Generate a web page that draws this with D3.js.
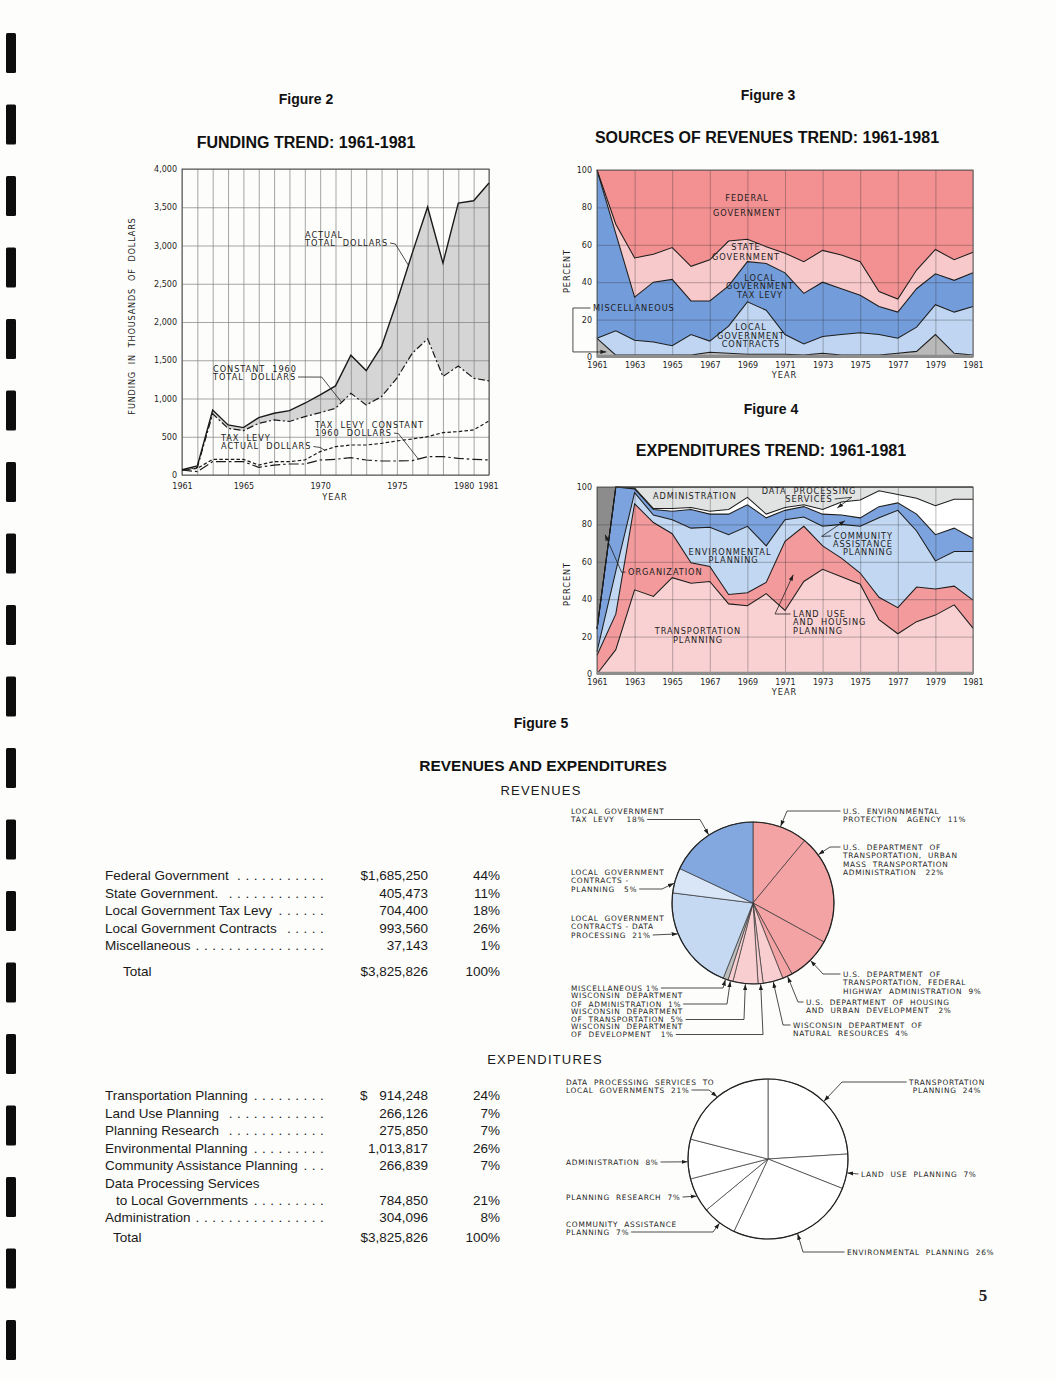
<!DOCTYPE html>
<html>
<head>
<meta charset="utf-8">
<title>Funding, revenues and expenditures 1961-1981</title>
<script src="https://cdn.jsdelivr.net/npm/d3@7"></script>
<style>
  body { margin: 0; background: #fdfdfb; }
  text { font-family: "DejaVu Sans", sans-serif; fill: #1e1e1e; }
  .lt { font-size: 8.2px; letter-spacing: 0.95px; white-space: pre; }
  .pl { font-size: 7.4px; letter-spacing: 0.7px; white-space: pre; }
  .tick text { font-family: "DejaVu Sans", sans-serif; font-size: 8px; letter-spacing: 0px; fill: #1e1e1e; }
  .ttl { font-family: "Liberation Sans", Arial, sans-serif; font-weight: bold; fill: #111; }
  .tb text { font-family: "Liberation Sans", Arial, sans-serif; font-size: 13.5px; fill: #1a1a1a; }
  .sub { font-family: "Liberation Sans", Arial, sans-serif; font-size: 13px; letter-spacing: 1.2px; fill: #1a1a1a; }
</style>
</head>
<body>
<div id="page"></div>
<script>
var years = [1961,1962,1963,1964,1965,1966,1967,1968,1969,1970,1971,1972,1973,1974,1975,1976,1977,1978,1979,1980,1981];

// Figure 2: funding in thousands of dollars
var f2Actual       = [70,118,850,655,620,750,807,842,938,1047,1165,1566,1365,1680,2268,2900,3503,2770,3555,3585,3817];
var f2Constant     = [65,100,800,610,580,676,720,700,763,815,872,1068,916,1025,1265,1592,1780,1287,1426,1265,1230];
var f2LevyActual   = [65,87,205,205,205,130,175,175,196,305,370,392,392,414,445,471,501,554,567,589,707];
var f2LevyConstant = [65,44,175,175,175,100,130,144,144,196,205,227,196,183,183,187,240,240,218,205,196];
var f2YTicks = [0,500,1000,1500,2000,2500,3000,3500,4000];
var f2XTicks = [1961,1965,1970,1975,1980,1981];

// Figure 3: sources of revenues, percent
var f3Keys      = ["misc","contracts","levy","state","federal"];
var f3Misc      = [10,1,1,1,1,1,2.5,2,1.5,1.5,1.5,1,2,1,1,1,2,3,12,2,1];
var f3Contracts = [0,13,8,7,5,11,6,14.5,28,23.5,10.5,6,9,11,12,11,8,13,16,22,26];
var f3Levy      = [90,52,23,32,35.5,18,21.5,21.5,21.5,25,33,27,29,24.5,20,15,14,20.5,16.5,17,18];
var f3State     = [0,5,21,15,17,18.5,22,24,12,9,10.5,17,17,18,18,8,7,10,13,11,11];
var f3Federal   = [0,29,47,45,41.5,51.5,48,38,37,41,44.5,49,43,45.5,49,65,69,53.5,42.5,48,44];
var f3Colors    = ["#b9b9b9","#bfd5f1","#739cda","#f8c9cb","#f29092"];

// Figure 4: expenditures, percent
var f4Keys      = ["transport","landuse","environ","community","dataproc","admin","organization"];
var f4Transport = [0,13,45,41.5,51.5,48.5,49.5,37.5,36.5,43,34,49.5,56,52,48,29,21.5,28,31.5,37,24.5];
var f4LandUse   = [10,19,46,39.5,23.5,11,8,5,7,6,37,29.5,12.5,10,6,12,14,18.5,14,10,15];
var f4Environ   = [2,23,6,4,7.5,18.5,21,32,35.5,19.5,11.5,5,10.5,18,25,42.5,52,30,15,18.5,26];
var f4Community = [12,45,2,3,4.5,10,7,11,11.5,15,5,5.5,6.5,5,4.5,6,4,9,14,12.5,7];
var f4DataProc  = [0,0,0.5,0.5,1.5,1,1.5,2.5,4,2,1.5,1,2.5,7,9.5,8.5,4.5,8.5,15.5,15.5,21];
var f4Admin     = [0,0,0.5,11.5,11.5,11,13,12,5.5,14.5,11,9.5,12,8,7,2,4,6,10,6.5,6.5];
var f4Organize  = [76,0,0,0,0,0,0,0,0,0,0,0,0,0,0,0,0,0,0,0,0];
var f4Colors    = ["#f9d1d3","#f29a9c","#c2d7f2","#7ca3de","#ffffff","#e1e2e2","#8c8c8c"];

var pctTicks  = [0,20,40,60,80,100];
var f34XTicks = [1961,1963,1965,1967,1969,1971,1973,1975,1977,1979,1981];

// Figure 5: revenues and expenditures
var revLabels  = ["Federal Government","State Government.","Local Government Tax Levy","Local Government Contracts","Miscellaneous"];
var revAmounts = [1685250,405473,704400,993560,37143];
var revPct     = [44,11,18,26,1];
var revPieValues = [11,22,9,2,4,1,5,1,1,21,5,18];
var revPieColors = ["#f4a3a5","#f4a3a5","#f4a3a5","#f4a3a5","#f9ced1","#f9ced1","#f9ced1","#f9ced1","#bdbdbd","#c5d9f3","#d9e6f8","#82a8df"];

var expLabels  = ["Transportation Planning","Land Use Planning","Planning Research","Environmental Planning","Community Assistance Planning","Data Processing Services|to Local Governments","Administration"];
var expAmounts = [914248,266126,275850,1013817,266839,784850,304096];
var expPct     = [24,7,7,26,7,21,8];
var expPieValues = [24,7,26,7,7,8,21];

// ---------------------------------------------------------------
var svg = d3.select("#page").append("svg").attr("width",1056).attr("height",1380);
svg.append("rect").attr("width",1056).attr("height",1380).attr("fill","#fdfdfb");

var defs = svg.append("defs");
defs.append("marker").attr("id","arrow")
  .attr("viewBox","0 0 10 10").attr("refX",10).attr("refY",5)
  .attr("markerUnits","userSpaceOnUse").attr("markerWidth",6).attr("markerHeight",6)
  .attr("orient","auto")
  .append("path").attr("d","M0,1.5L10,5L0,8.5Z").attr("fill","#1e1e1e");

// binding holes along the scanned page edge
d3.range(19).forEach(function(i){
  svg.append("rect").attr("x",6).attr("y",33 + i*71.5).attr("width",10).attr("height",40)
    .attr("rx",1.5).attr("fill","#0d0d0d");
});

function title(x, y, txt, size) {
  svg.append("text").attr("class","ttl").attr("x",x).attr("y",y)
    .attr("text-anchor","middle").attr("dy","0.35em").style("font-size",size+"px").text(txt);
}

function lines(g, x, y, arr, step, anchor, cls) {
  var t = g.append("text").attr("class", cls || "lt").attr("text-anchor", anchor || "middle")
    .attr("xml:space","preserve");
  arr.forEach(function(s,i){
    t.append("tspan").attr("x",x).attr("y",y + i*step).attr("dy","0.35em").text(s);
  });
  return t;
}

// point where a leader leaves a label line
function edgePoint(t, idx, out) {
  var sp = t.selectAll("tspan").nodes()[idx];
  var len = sp.getComputedTextLength();
  var x = +sp.getAttribute("x"), y = +sp.getAttribute("y");
  var a = t.attr("text-anchor");
  var left = a === "start" ? x : a === "end" ? x - len : x - len/2;
  return out === "right" ? [left + len + 2, y] : [left - 2.5, y];
}

function leader(g, pts, arrow) {
  g.append("path").attr("d", d3.line()(pts)).attr("fill","none")
    .attr("stroke","#1e1e1e").attr("stroke-width",0.8)
    .attr("marker-end", arrow ? "url(#arrow)" : null);
}

function valueAt(series, yr) {
  var i = Math.floor(yr - 1961), f = yr - 1961 - i;
  return series[i] + f*(series[i+1] - series[i]);
}

// ---------------- Figure 2 ----------------
title(306, 99, "Figure 2", 14);
title(306, 142, "FUNDING TREND: 1961-1981", 16);

var b2 = {x0:182, x1:489, y0:169, y1:475};
var x2 = d3.scaleLinear().domain([1961,1981]).range([b2.x0,b2.x1]);
var y2 = d3.scaleLinear().domain([0,4000]).range([b2.y1,b2.y0]);
var g2 = svg.append("g");

g2.append("path").datum(f2Actual)
  .attr("d", d3.area().x(function(d,i){ return x2(years[i]); })
    .y0(function(d,i){ return y2(f2Constant[i]); })
    .y1(function(d){ return y2(d); }))
  .attr("fill","#d5d5d5");

g2.append("g").attr("transform","translate(0,"+b2.y1+")")
  .call(d3.axisBottom(x2).tickValues(years).tickSize(-(b2.y1-b2.y0)).tickFormat(""))
  .call(function(a){ a.select(".domain").remove(); })
  .selectAll("line").attr("stroke","#808080").attr("stroke-width",0.7);
g2.append("g").attr("transform","translate("+b2.x0+",0)")
  .call(d3.axisLeft(y2).tickValues(f2YTicks).tickSize(-(b2.x1-b2.x0)).tickFormat(""))
  .call(function(a){ a.select(".domain").remove(); })
  .selectAll("line").attr("stroke","#808080").attr("stroke-width",0.7);
g2.append("rect").attr("x",b2.x0).attr("y",b2.y0).attr("width",b2.x1-b2.x0).attr("height",b2.y1-b2.y0)
  .attr("fill","none").attr("stroke","#444").attr("stroke-width",0.9);

var ln2 = d3.line().x(function(d,i){ return x2(years[i]); }).y(function(d){ return y2(d); });
[[f2Actual,null,1.4],[f2Constant,"7,2.5,2,2.5",1.2],[f2LevyActual,"3.5,2.2",1.2],[f2LevyConstant,"10,3,2.5,3",1.2]]
  .forEach(function(s){
    g2.append("path").datum(s[0]).attr("d",ln2).attr("fill","none")
      .attr("stroke","#1a1a1a").attr("stroke-width",s[2]).attr("stroke-dasharray",s[1]);
  });

g2.append("g").attr("transform","translate("+b2.x0+",0)")
  .call(d3.axisLeft(y2).tickValues(f2YTicks).tickSize(0).tickPadding(5).tickFormat(d3.format(",")))
  .call(function(a){ a.select(".domain").remove(); });
g2.append("g").attr("transform","translate(0,"+b2.y1+")")
  .call(d3.axisBottom(x2).tickValues(f2XTicks).tickSize(0).tickPadding(8).tickFormat(d3.format("d")))
  .call(function(a){ a.select(".domain").remove(); })
  .selectAll("text").attr("dx", function(d){ return d === 1980 ? -10 : d === 1981 ? -1 : 0; });

g2.append("text").attr("class","lt").attr("transform","translate(132,316) rotate(-90)")
  .attr("text-anchor","middle").attr("dy","0.35em").style("letter-spacing","0.8px")
  .text("FUNDING  IN  THOUSANDS  OF  DOLLARS");
g2.append("text").attr("class","lt").attr("x",335).attr("y",497).attr("text-anchor","middle")
  .attr("dy","0.35em").text("YEAR");

var t2a = lines(g2, 305, 235, ["ACTUAL","TOTAL  DOLLARS"], 8, "start");
leader(g2, [edgePoint(t2a,1,"right"), [x2(1974.9), y2(3020)], [x2(1975.75), y2(valueAt(f2Actual,1975.75))]]);
var t2b = lines(g2, 213, 369, ["CONSTANT  1960","TOTAL  DOLLARS"], 8, "start");
leader(g2, [edgePoint(t2b,1,"right"), [x2(1970.1), y2(1280)], [x2(1971.4), y2(valueAt(f2Constant,1971.4))]]);
var t2c = lines(g2, 315, 425, ["TAX  LEVY  CONSTANT","1960  DOLLARS"], 8, "start");
leader(g2, [edgePoint(t2c,1,"right"), [x2(1975.1), y2(540)], [x2(1976.4), y2(valueAt(f2LevyConstant,1976.4))]]);
var t2d = lines(g2, 221, 438, ["TAX  LEVY","ACTUAL  DOLLARS"], 8.5, "start");
leader(g2, [edgePoint(t2d,1,"right"), [x2(1970.0), y2(360)], [x2(1970.3), y2(valueAt(f2LevyActual,1970.3))]]);

// ---------------- stacked percent charts ----------------
function stackChart(box, keys, series, colors) {
  var x = d3.scaleLinear().domain([1961,1981]).range([box.x0,box.x1]);
  var y = d3.scaleLinear().domain([0,100]).range([box.y1,box.y0]);
  var rows = years.map(function(yr,i){
    var r = {year: yr};
    keys.forEach(function(k,j){ r[k] = series[j][i]; });
    return r;
  });
  var layers = d3.stack().keys(keys)(rows);
  var g = svg.append("g");
  var area = d3.area().x(function(d){ return x(d.data.year); })
    .y0(function(d){ return y(d[0]); }).y1(function(d){ return y(d[1]); });
  g.selectAll("path.layer").data(layers).join("path").attr("class","layer")
    .attr("d",area).attr("fill",function(d,i){ return colors[i]; });

  g.append("g").attr("transform","translate(0,"+box.y1+")")
    .call(d3.axisBottom(x).tickValues(f34XTicks).tickSize(-(box.y1-box.y0)).tickFormat(""))
    .call(function(a){ a.select(".domain").remove(); })
    .selectAll("line").attr("stroke","rgba(40,40,40,0.45)").attr("stroke-width",0.7);
  g.append("g").attr("transform","translate("+box.x0+",0)")
    .call(d3.axisLeft(y).tickValues(pctTicks).tickSize(-(box.x1-box.x0)).tickFormat(""))
    .call(function(a){ a.select(".domain").remove(); })
    .selectAll("line").attr("stroke","rgba(40,40,40,0.45)").attr("stroke-width",0.7);

  var edge = d3.line().x(function(d){ return x(d.data.year); }).y(function(d){ return y(d[1]); });
  g.selectAll("path.edge").data(layers.slice(0,-1)).join("path").attr("class","edge")
    .attr("d",edge).attr("fill","none").attr("stroke","#1c1c1c").attr("stroke-width",1.05);

  g.append("rect").attr("x",box.x0).attr("y",box.y0).attr("width",box.x1-box.x0).attr("height",box.y1-box.y0)
    .attr("fill","none").attr("stroke","#555").attr("stroke-width",0.9);
  g.append("line").attr("x1",box.x0).attr("x2",box.x1).attr("y1",box.y1-1).attr("y2",box.y1-1)
    .attr("stroke","#8e8e8e").attr("stroke-width",2.5);

  g.append("g").attr("transform","translate("+box.x0+",0)")
    .call(d3.axisLeft(y).tickValues(pctTicks).tickSize(0).tickPadding(5))
    .call(function(a){ a.select(".domain").remove(); });
  g.append("g").attr("transform","translate(0,"+box.y1+")")
    .call(d3.axisBottom(x).tickValues(f34XTicks).tickSize(0).tickPadding(5).tickFormat(d3.format("d")))
    .call(function(a){ a.select(".domain").remove(); });
  g.append("text").attr("class","lt").attr("x",(box.x0+box.x1)/2 - 0.5).attr("y",box.y1+18)
    .attr("text-anchor","middle").attr("dy","0.35em").text("YEAR");
  return {x:x, y:y, g:g};
}

// ---------------- Figure 3 ----------------
title(768, 95, "Figure 3", 14);
title(767, 137, "SOURCES OF REVENUES TREND: 1961-1981", 16);
var b3 = {x0:597, x1:973, y0:170, y1:357};
var c3 = stackChart(b3, f3Keys, [f3Misc,f3Contracts,f3Levy,f3State,f3Federal], f3Colors);
c3.g.append("text").attr("class","lt").attr("transform","translate(567,271) rotate(-90)")
  .attr("text-anchor","middle").attr("dy","0.35em").text("PERCENT");
lines(c3.g, 747, 198, ["FEDERAL","GOVERNMENT"], 15);
lines(c3.g, 746, 247, ["STATE","GOVERNMENT"], 10);
lines(c3.g, 760, 278, ["LOCAL","GOVERNMENT","TAX LEVY"], 8.5);
lines(c3.g, 751, 327, ["LOCAL","GOVERNMENT","CONTRACTS"], 8.7);
var t3m = lines(c3.g, 593, 308, ["MISCELLANEOUS"], 8, "start");
leader(c3.g, [edgePoint(t3m,0,"left"), [c3.x(1959.72), c3.y(26.2)], [c3.x(1959.72), c3.y(2.7)], [c3.x(1961.5), c3.y(2.7)]], true);

// ---------------- Figure 4 ----------------
title(771, 409, "Figure 4", 14);
title(771, 450, "EXPENDITURES TREND: 1961-1981", 16);
var b4 = {x0:597, x1:973, y0:487, y1:674};
var c4 = stackChart(b4, f4Keys, [f4Transport,f4LandUse,f4Environ,f4Community,f4DataProc,f4Admin,f4Organize], f4Colors);
c4.g.append("text").attr("class","lt").attr("transform","translate(567,584) rotate(-90)")
  .attr("text-anchor","middle").attr("dy","0.35em").text("PERCENT");
lines(c4.g, 653, 496, ["ADMINISTRATION"], 8, "start");
var t4d = lines(c4.g, 809, 491, ["DATA  PROCESSING","SERVICES"], 8);
leader(c4.g, [edgePoint(t4d,1,"right"), [c4.x(1974.55), c4.y(94.5)], [c4.x(1973.78), c4.y(88.8)]], true);
var t4c = lines(c4.g, 893, 536, ["COMMUNITY","ASSISTANCE","PLANNING"], 8.2, "end");
leader(c4.g, [edgePoint(t4c,0,"left"), [c4.x(1972.95), c4.y(73.6)], [c4.x(1974.19), c4.y(82.0)]], true);
lines(c4.g, 730, 552, ["ENVIRONMENTAL","  PLANNING"], 8.3);
var t4o = lines(c4.g, 628, 572, ["ORGANIZATION"], 8, "start");
leader(c4.g, [edgePoint(t4o,0,"left"), [c4.x(1962.31), c4.y(54.4)], [c4.x(1961.43), c4.y(74.5)]], true);
var t4l = lines(c4.g, 793, 614, ["LAND  USE","AND  HOUSING","PLANNING"], 8.5, "start");
leader(c4.g, [edgePoint(t4l,0,"left"), [c4.x(1970.47), c4.y(32.1)], [c4.x(1971.44), c4.y(53.1)]], true);
lines(c4.g, 698, 631, ["TRANSPORTATION","PLANNING"], 9);

// ---------------- Figure 5 ----------------
title(541, 723, "Figure 5", 14);
title(543, 766, "REVENUES AND EXPENDITURES", 15.5);
svg.append("text").attr("class","sub").attr("x",541).attr("y",790).attr("dy","0.35em")
  .attr("text-anchor","middle").text("REVENUES");
svg.append("text").attr("class","sub").attr("x",545).attr("y",1059).attr("dy","0.35em")
  .attr("text-anchor","middle").text("EXPENDITURES");

function pieChart(cx, cy, r, values, colors) {
  var arcs = d3.pie().sort(null).value(function(d){ return d; })(values);
  var arc = d3.arc().innerRadius(0).outerRadius(r);
  var g = svg.append("g").attr("transform","translate("+cx+","+cy+")");
  g.selectAll("path").data(arcs).join("path").attr("d",arc)
    .attr("fill",function(d,i){ return colors ? colors[i] : "#fff"; })
    .attr("stroke","#333").attr("stroke-width",0.7);
  g.append("circle").attr("r",r).attr("fill","none").attr("stroke","#222").attr("stroke-width",1.2);
  return arcs;
}

function pieLabels(arcs, cx, cy, r, layout, step) {
  layout.forEach(function(L){
    var t = lines(svg, L.x, L.y, L.text, step, L.anchor || "start", "pl");
    var a = arcs[L.s];
    var p = d3.pointRadial(a.startAngle + L.t*(a.endAngle - a.startAngle), r + 0.5);
    var s = edgePoint(t, L.from, L.out);
    var pts = [s];
    if (L.elbow != null) pts.push([L.elbow, s[1]]);
    pts.push([cx + p[0], cy + p[1]]);
    leader(svg, pts, true);
  });
}

var revArcs = pieChart(753, 903, 81, revPieValues, revPieColors);
pieLabels(revArcs, 753, 903, 81, [
  {s:11, text:["LOCAL  GOVERNMENT","TAX  LEVY    18%"], x:571, y:811, out:"right", from:1, elbow:700, t:0.49},
  {s:10, text:["LOCAL  GOVERNMENT","CONTRACTS -","PLANNING   5%"], x:571, y:872, out:"right", from:2, elbow:662, t:0.38},
  {s:9,  text:["LOCAL  GOVERNMENT","CONTRACTS - DATA","PROCESSING  21%"], x:571, y:918, out:"right", from:2, elbow:null, t:0.61},
  {s:8,  text:["MISCELLANEOUS 1%"], x:571, y:988, out:"right", from:0, elbow:723, t:0.5},
  {s:7,  text:["WISCONSIN  DEPARTMENT","OF  ADMINISTRATION  1%"], x:571, y:995.5, out:"right", from:1, elbow:727, t:0.5},
  {s:6,  text:["WISCONSIN  DEPARTMENT","OF  TRANSPORTATION  5%"], x:571, y:1011, out:"right", from:1, elbow:744, t:0.5},
  {s:5,  text:["WISCONSIN  DEPARTMENT","OF  DEVELOPMENT   1%"], x:571, y:1026, out:"right", from:1, elbow:763, t:0.5},
  {s:0,  text:["U.S.  ENVIRONMENTAL","PROTECTION   AGENCY  11%"], x:843, y:811, out:"left", from:0, elbow:787, t:0.5},
  {s:1,  text:["U.S.  DEPARTMENT  OF","TRANSPORTATION,  URBAN","MASS  TRANSPORTATION","ADMINISTRATION   22%"], x:843, y:847, out:"left", from:0, elbow:830, t:0.175},
  {s:2,  text:["U.S.  DEPARTMENT  OF","TRANSPORTATION,  FEDERAL","HIGHWAY  ADMINISTRATION  9%"], x:843, y:974, out:"left", from:0, elbow:823, t:0.5},
  {s:3,  text:["U.S.  DEPARTMENT  OF  HOUSING","AND  URBAN  DEVELOPMENT   2%"], x:806, y:1002, out:"left", from:0, elbow:798, t:0.5},
  {s:4,  text:["WISCONSIN  DEPARTMENT  OF","NATURAL  RESOURCES  4%"], x:793, y:1025, out:"left", from:0, elbow:783, t:0.5}
], 8.5);

var expArcs = pieChart(768, 1159, 80, expPieValues, null);
pieLabels(expArcs, 768, 1159, 80, [
  {s:6, text:["DATA  PROCESSING  SERVICES  TO","LOCAL  GOVERNMENTS  21%"], x:566, y:1082, out:"right", from:1, elbow:709, t:0.48},
  {s:0, text:["TRANSPORTATION","PLANNING  24%"], x:947, y:1082, anchor:"middle", out:"left", from:0, elbow:842, t:0.51},
  {s:5, text:["ADMINISTRATION  8%"], x:566, y:1162, out:"right", from:0, elbow:null, t:0.43},
  {s:1, text:["LAND  USE  PLANNING  7%"], x:861, y:1174, out:"left", from:0, elbow:null, t:0.54},
  {s:4, text:["PLANNING  RESEARCH  7%"], x:566, y:1197, out:"right", from:0, elbow:null, t:0.48},
  {s:3, text:["COMMUNITY  ASSISTANCE","PLANNING  7%"], x:566, y:1224, out:"right", from:1, elbow:713, t:0.47},
  {s:2, text:["ENVIRONMENTAL  PLANNING  26%"], x:847, y:1252, out:"left", from:0, elbow:803, t:0.5}
], 8);

// ---------------- tables ----------------
function moneyTable(labels, amounts, pcts, lineYs, totalY, totalX, dollarApart) {
  var g = svg.append("g").attr("class","tb");
  var fmt = d3.format(",");
  var k = 0;
  labels.forEach(function(lab, i){
    var parts = lab.split("|");
    parts.forEach(function(p, j){
      var y = lineYs[k++];
      var x0 = j > 0 ? 116 : 105;
      var t = g.append("text").attr("x",x0).attr("y",y).attr("dy","0.35em").text(p);
      if (j < parts.length - 1) return;
      var end = x0 + t.node().getComputedTextLength();
      for (var dx = 322; dx > end + 5; dx -= 8.3) {
        g.append("text").attr("x",dx).attr("y",y).attr("dy","0.35em").attr("text-anchor","middle").text(".");
      }
      var amt = fmt(amounts[i]);
      if (i === 0 && !dollarApart) amt = "$" + amt;
      if (i === 0 && dollarApart) g.append("text").attr("x",360).attr("y",y).attr("dy","0.35em").text("$");
      g.append("text").attr("x",428).attr("y",y).attr("dy","0.35em").attr("text-anchor","end").text(amt);
      g.append("text").attr("x",500).attr("y",y).attr("dy","0.35em").attr("text-anchor","end").text(pcts[i] + "%");
    });
  });
  g.append("text").attr("x",totalX).attr("y",totalY).attr("dy","0.35em").text("Total");
  g.append("text").attr("x",428).attr("y",totalY).attr("dy","0.35em").attr("text-anchor","end")
    .text("$" + fmt(d3.sum(amounts)));
  g.append("text").attr("x",500).attr("y",totalY).attr("dy","0.35em").attr("text-anchor","end")
    .text(d3.sum(pcts) + "%");
}

moneyTable(revLabels, revAmounts, revPct, [875,893,910,928,945], 971, 123, false);
moneyTable(expLabels, expAmounts, expPct, [1095,1113,1130,1148,1165,1183,1200,1217], 1237, 113, true);

// page number
svg.append("text").attr("x",983).attr("y",1295).attr("dy","0.35em").attr("text-anchor","middle")
  .style("font-family","'Liberation Serif', serif").style("font-weight","bold").style("font-size","17px")
  .text("5");
</script>
</body>
</html>
